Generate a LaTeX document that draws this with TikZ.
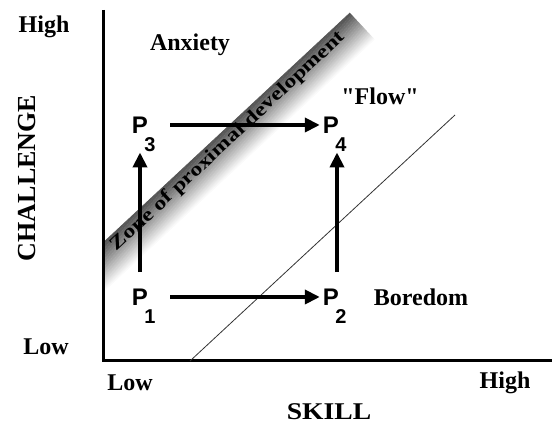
\documentclass[tikz,border=0pt]{standalone}
\usepackage{fontspec}
\setmainfont{Liberation Serif}[Ligatures=TeXOff]
\setsansfont{Liberation Sans}
\usetikzlibrary{arrows.meta}

\begin{document}
\begin{tikzpicture}[x=1pt, y=1pt, >={Triangle[length=15pt, width=14pt]},
  lbl/.style={inner sep=0pt, font=\fontsize{24}{24}\selectfont\bfseries},
  pnt/.style={inner sep=0pt, font=\fontsize{24}{24}\selectfont\sffamily\bfseries},
  subi/.style={inner sep=0pt, font=\fontsize{20}{20}\selectfont\sffamily\bfseries},
  flecha/.style={->, line width=4pt}]
  \useasboundingbox (0,0) rectangle (552,427);
  % zona de desarrollo proximo
  \begin{scope}
    \clip (103,0) rectangle (552,427);
    \begin{scope}[shift={(103,184)}, rotate=42.96]
      \foreach \i in {0,...,35} {
        \pgfmathsetmacro{\tono}{68*(1-\i/36)}
        \fill[black!\tono] (-60,-\i-1.3) rectangle (337.5,-\i);
      }
      \draw[black!65, line width=0.8pt] (-60,0) -- (337.5,0);
      \node[transform shape, xscale=1.26, inner sep=0pt,
        font=\fontsize{19}{19}\selectfont\bfseries] (zona) at (160.7,-11) {Zone of proximal development};
    \end{scope}
  \end{scope}
  % ejes
  \draw[line width=3pt] (103,417) -- (103,66) -- (552,66);
  % linea de flujo
  \draw[black!80, line width=0.8pt] (190,66) -- (455,312);
  % textos
  \node[lbl] (altoy) at (44,400) {High};
  \node[lbl] (bajoy) at (46,80) {Low};
  \node[lbl, rotate=90, font=\fontsize{26}{26}\selectfont\bfseries] (reto) at (27,249) {CHALLENGE};
  \node[lbl] (bajox) at (130,44) {Low};
  \node[lbl] (altox) at (505,44) {High};
  \node[lbl, xscale=1.15] (habil) at (329,15) {SKILL};
  \node[lbl] (ansie) at (190,382) {Anxiety};
  \node[lbl] (flujo) at (380,331) {"Flow"};
  \node[lbl] (aburr) at (421,130) {Boredom};
  % puntos
  \node[pnt] (p1) at (140,130) {P};
  \node[subi] (s1) at (150,110) {1};
  \node[pnt] (p2) at (331,130) {P};
  \node[subi] (s2) at (341,110) {2};
  \node[pnt] (p3) at (140,302) {P};
  \node[subi] (s3) at (150,282) {3};
  \node[pnt] (p4) at (331,302) {P};
  \node[subi] (s4) at (341,282) {4};
  % flechas
  \draw[flecha, shorten <=22pt, shorten >=3pt] (p1) -- (p2);
  \draw[flecha, shorten <=22pt, shorten >=3pt] (p3) -- (p4);
  \draw[flecha, shorten <=16.5pt, shorten >=19pt] (p1) -- (p3);
  \draw[flecha, shorten <=16.5pt, shorten >=19pt] ([xshift=6pt]p2.north) -- ([xshift=6pt]p4.south);
\end{tikzpicture}
\end{document}
